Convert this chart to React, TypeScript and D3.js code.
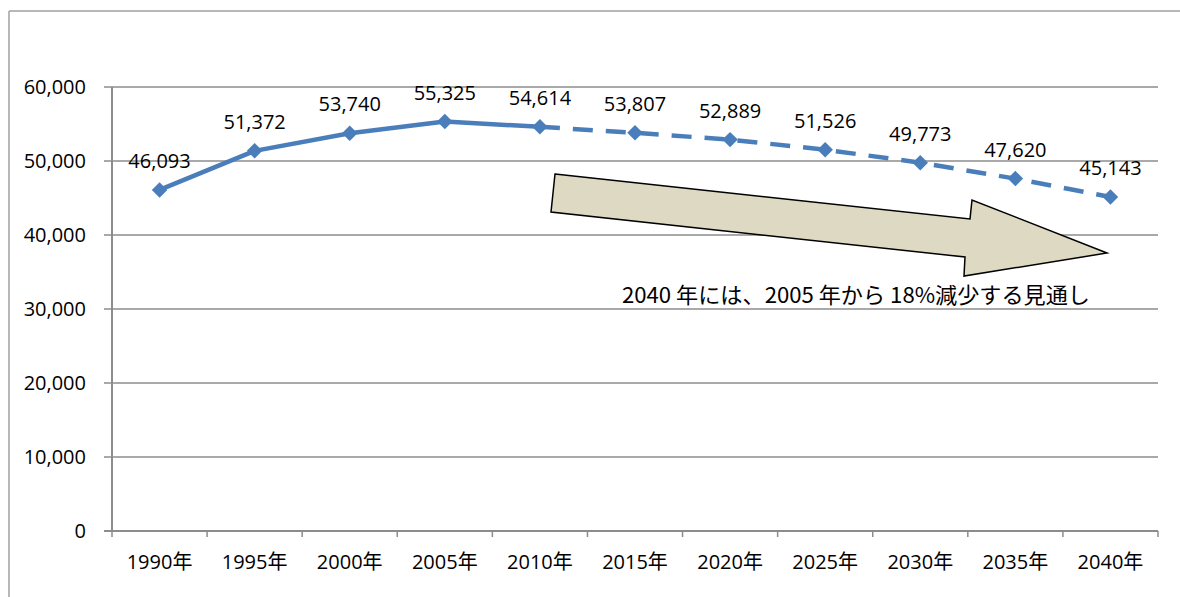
import React from 'react';
import { scaleBand, scaleLinear, line, symbol, symbolSquare, format } from 'd3';

const years = ['1990年', '1995年', '2000年', '2005年', '2010年', '2015年', '2020年', '2025年', '2030年', '2035年', '2040年'];
const population = [46093, 51372, 53740, 55325, 54614, 53807, 52889, 51526, 49773, 47620, 45143];
const yTicks = [0, 10000, 20000, 30000, 40000, 50000, 60000];
const actualCount = 5; // 1990-2010 measured, rest projected
const note = '2040 年には、2005 年から 18%減少する見通し';

const width = 1180;
const height = 597;
const margin = { top: 87, right: 22, bottom: 66, left: 112 };
const innerWidth = width - margin.left - margin.right;
const innerHeight = height - margin.top - margin.bottom;

const font = '"Open Sans", "Noto Sans CJK JP", sans-serif';
const blue = '#4A7EBB';
const grid = '#8C8C8C';

function App() {
  const xScale = scaleBand().domain(years).range([0, innerWidth]);
  const yScale = scaleLinear().domain([0, 60000]).range([innerHeight, 0]);
  const cx = (i: number) => xScale(years[i])! + xScale.bandwidth() / 2;

  const pts = population.map((v, i) => [cx(i), yScale(v)] as [number, number]);
  const path = line();
  const solid = path(pts.slice(0, actualCount));
  const dashed = path(pts.slice(actualCount - 1));
  const marker = symbol(symbolSquare, 120)();
  const fmt = format(',');

  // arrow annotation, page coords shifted into plot coords
  const arrow = [
    [555, 174], [970, 219], [972, 200], [1107, 253], [964, 276], [965, 257], [551, 212],
  ].map(([x, y]) => `${x - margin.left},${y - margin.top}`).join(' ');

  return (
    <svg width={width} height={height} style={{ position: 'absolute', left: 0, top: 0, background: '#fff' }}>
      <line x1={9} y1={11} x2={width} y2={11} stroke="#A0A0A0" strokeWidth={1.5} />
      <line x1={9} y1={11} x2={9} y2={height} stroke="#A0A0A0" strokeWidth={1.5} />
      <g transform={`translate(${margin.left},${margin.top})`} fontFamily={font}>
        {yTicks.map(t => (
          <g key={t} transform={`translate(0,${yScale(t)})`}>
            <line x1={-8} x2={innerWidth} stroke={grid} strokeWidth={t === 0 ? 2 : 1.3} />
            <text x={-26} dy="0.36em" textAnchor="end" fontSize={20} fill="#000">{fmt(t)}</text>
          </g>
        ))}
        <line x1={0} x2={0} y1={0} y2={innerHeight} stroke={grid} strokeWidth={2} />
        {years.map((y, i) => (
          <g key={y}>
            <line x1={xScale(y)!} x2={xScale(y)!} y1={innerHeight} y2={innerHeight + 6} stroke={grid} strokeWidth={1.5} />
            <text x={cx(i)} y={innerHeight + 38} textAnchor="middle" fontSize={20} fill="#000">{y}</text>
          </g>
        ))}
        <line x1={innerWidth} x2={innerWidth} y1={innerHeight} y2={innerHeight + 6} stroke={grid} strokeWidth={1.5} />
        <polygon points={arrow} fill="#DDD9C3" stroke="#000" strokeWidth={1.5} />
        <text x={622 - margin.left} y={303 - margin.top} fontSize={22} textLength={468} lengthAdjust="spacingAndGlyphs"
          fontFamily='"Noto Sans CJK JP", sans-serif' fill="#000">{note}</text>
        <path d={solid!} fill="none" stroke={blue} strokeWidth={4.5} strokeLinejoin="round" />
        <path d={dashed!} fill="none" stroke={blue} strokeWidth={4.5} strokeDasharray="20 13" />
        {pts.map(([x, y], i) => (
          <g key={i}>
            <path d={marker!} transform={`translate(${x},${y}) rotate(45)`} fill={blue} />
            <text x={x} y={y - 22} textAnchor="middle" fontSize={20} fill="#000">{fmt(population[i])}</text>
          </g>
        ))}
      </g>
    </svg>
  );
}

export default App;
